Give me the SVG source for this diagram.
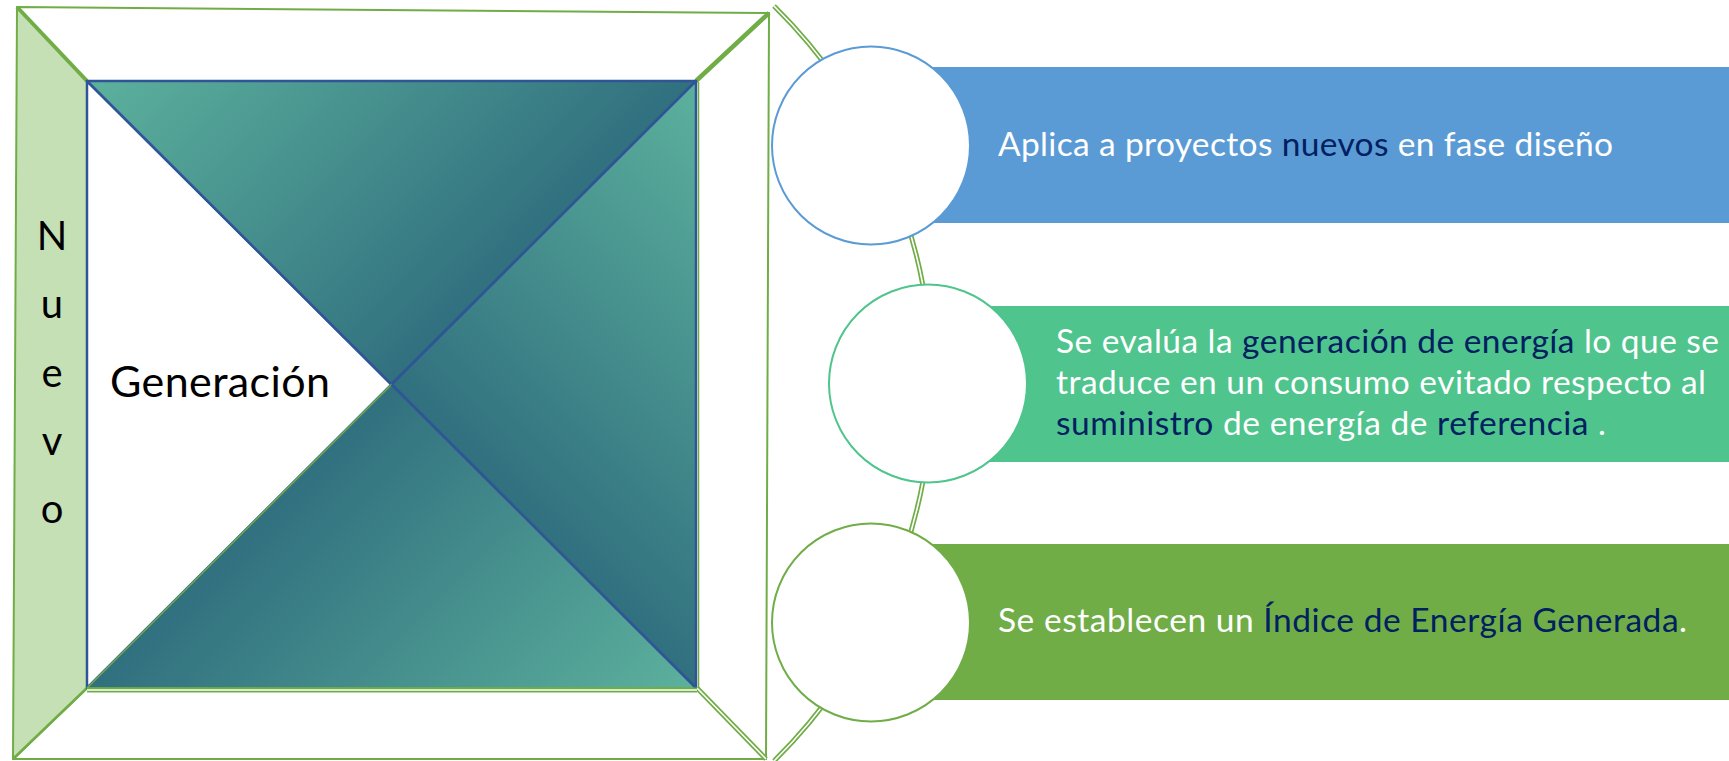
<svg xmlns="http://www.w3.org/2000/svg" width="1729" height="761" viewBox="0 0 1729 761">
  <style>
    .fr { stroke: #70AD47; stroke-width: 2; stroke-linejoin: round; }
    .gl { stroke: #70AD47; fill: none; stroke-linecap: butt; }
    .dblg { stroke: #70AD47; stroke-width: 5; fill: none; }
    .dblw { stroke: #FFFFFF; stroke-width: 1.6; fill: none; }
    .tri { stroke: #2F5597; stroke-width: 2.5; stroke-linejoin: round; }
    .t { font-family: Lato, Carlito, "Open Sans", sans-serif; }
    .w { fill: #FFFFFF; font-size: 33.5px; }
    .hl { fill: #002060; }
    .blk { fill: #000000; }
  </style>
  <defs>
    <linearGradient id="gTop" gradientUnits="userSpaceOnUse" x1="84" y1="84" x2="388.5" y2="388.5">
      <stop offset="0" stop-color="#5CB19D"/>
      <stop offset="1" stop-color="#31707F"/>
    </linearGradient>
    <linearGradient id="gRight" gradientUnits="userSpaceOnUse" x1="696" y1="81" x2="392" y2="385">
      <stop offset="0" stop-color="#5CB19D"/>
      <stop offset="1" stop-color="#31707F"/>
    </linearGradient>
    <linearGradient id="gBottom" gradientUnits="userSpaceOnUse" x1="696" y1="688" x2="391.5" y2="383.5">
      <stop offset="0" stop-color="#5CB19D"/>
      <stop offset="1" stop-color="#31707F"/>
    </linearGradient>
  </defs>

  <rect width="1729" height="761" fill="#FFFFFF"/>

  <!-- connectors: the arc behind the circles -->
  <g id="connectors">
    <path class="dblg" d="M 774 6 A 530 530 0 0 1 774 761"/>
    <path class="dblw" d="M 774 6 A 530 530 0 0 1 774 761"/>
  </g>

  <!-- outer frame -->
  <g id="frame">
    <polygon class="fr" fill="#FFFFFF" points="17,7 769,13 696,81 87,81"/>
    <polygon class="fr" fill="#FFFFFF" points="769,13 766,759 696,688 696,81"/>
    <polygon class="fr" fill="#FFFFFF" points="87,688 696,688 766,759 13,759"/>
    <polygon class="fr" fill="#C5E0B4" points="17,7 87,81 87,688 13,759"/>
    <line class="gl" stroke-width="4" x1="17" y1="7" x2="87" y2="81"/>
    <line class="gl" stroke-width="4.5" x1="769" y1="13" x2="696" y2="81"/>
    <line class="gl" stroke-width="2.5" x1="13" y1="759" x2="87" y2="688"/>
    <line class="dblg" x1="766" y1="759" x2="697" y2="688"/>
    <line class="dblw" x1="766" y1="759" x2="697" y2="688"/>
  </g>

  <!-- inner square with triangles -->
  <g id="pyramid">
    <polygon class="tri" fill="#FFFFFF" points="87,81 391.5,384.5 87,688"/>
    <polygon class="tri" fill="url(#gTop)" points="87,81 696,81 391.5,384.5"/>
    <polygon class="tri" fill="url(#gRight)" points="696,81 696,688 391.5,384.5"/>
    <polygon fill="url(#gBottom)" stroke="#70AD47" stroke-width="1.5" stroke-linejoin="round" points="87,688 696,688 391.5,384.5"/>
    <line class="tri" x1="391.5" y1="384.5" x2="696" y2="688"/>
    <line class="gl" stroke-width="1.5" x1="698.5" y1="82" x2="698.5" y2="688"/>
    <line class="dblg" x1="87" y1="690" x2="697" y2="690"/>
    <line class="dblw" x1="87" y1="690" x2="697" y2="690"/>
  </g>

  <g id="label-nuevo" class="t blk" font-size="40" text-anchor="middle">
    <text x="52" y="250">N</text>
    <text x="52" y="318">u</text>
    <text x="52" y="387">e</text>
    <text x="52" y="455">v</text>
    <text x="52" y="523">o</text>
  </g>

  <g id="label-generacion">
    <text class="t blk" x="110" y="397" font-size="43" textLength="220">Generación</text>
  </g>

  <g id="node1">
    <rect x="871" y="67" width="858" height="156" fill="#5B9BD5"/>
    <circle cx="871" cy="145.5" r="99" fill="#FFFFFF" stroke="#5B9BD5" stroke-width="2"/>
    <text class="t w" x="998" y="156" textLength="615">Aplica a proyectos <tspan class="hl">nuevos</tspan> en fase diseño</text>
  </g>

  <g id="node2">
    <rect x="928" y="306" width="801" height="156" fill="#4FC48D"/>
    <circle cx="928" cy="383.5" r="99" fill="#FFFFFF" stroke="#4FC48D" stroke-width="2"/>
    <text class="t w" x="1056" y="353" textLength="663">Se evalúa la <tspan class="hl">generación de energía</tspan> lo que se</text>
    <text class="t w" x="1056" y="394" textLength="650">traduce en un consumo evitado respecto al</text>
    <text class="t w" x="1056" y="435" textLength="550"><tspan class="hl">suministro</tspan> de energía de <tspan class="hl">referencia</tspan> .</text>
  </g>

  <g id="node3">
    <rect x="871" y="544" width="858" height="156" fill="#70AD47"/>
    <circle cx="871" cy="622.5" r="99" fill="#FFFFFF" stroke="#70AD47" stroke-width="2"/>
    <text class="t w" x="998" y="632" textLength="689">Se establecen un <tspan class="hl">Índice de Energía Generada</tspan>.</text>
  </g>
</svg>
